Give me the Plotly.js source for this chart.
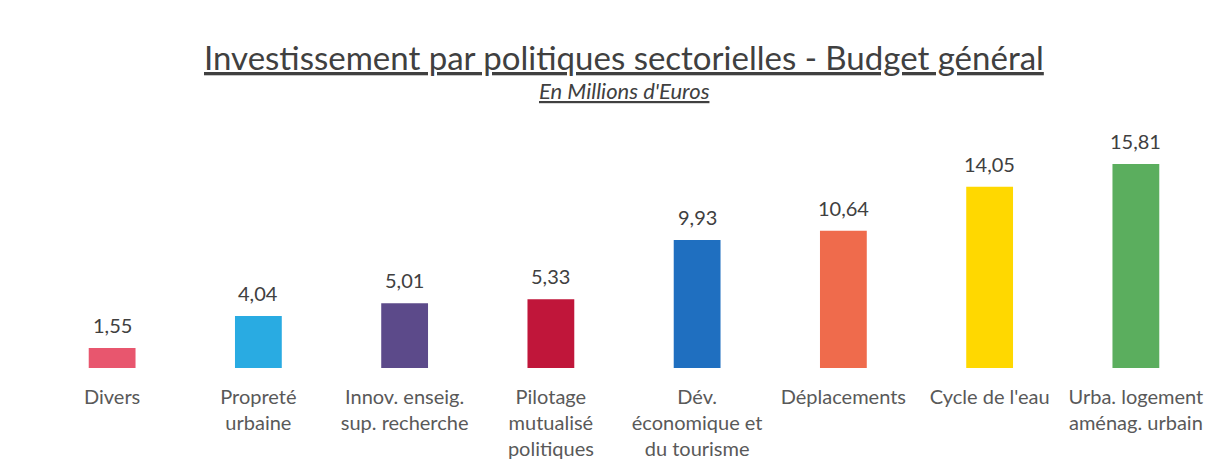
<!DOCTYPE html>
<html>
<head>
<meta charset="utf-8">
<script src="https://cdn.plot.ly/plotly-3.0.1.min.js"></script>
<style>html,body{margin:0;padding:0;background:#fff;}#chart{width:1221px;height:469px;}</style>
</head>
<body>
<div id="chart"></div>
<script>
const categories = [
  "Divers",
  "Propreté<br>urbaine",
  "Innov. enseig.<br>sup. recherche",
  "Pilotage<br>mutualisé<br>politiques",
  "Dév.<br>économique et<br>du tourisme",
  "Déplacements",
  "Cycle de l'eau",
  "Urba. logement<br>aménag. urbain"
];
const values = [1.55, 4.04, 5.01, 5.33, 9.93, 10.64, 14.05, 15.81];
const barColors = ["#E8566E", "#29ABE2", "#5C4A8A", "#C0163A", "#1F6FC0", "#EF6B4C", "#FFD800", "#5BAE5E"];
const titleText = "Investissement par politiques sectorielles - Budget général";
const subtitleText = "En Millions d'Euros";

const FONT = "Lato, 'Open Sans', sans-serif";

const valueLabels = categories.map((c, i) => ({
  x: c, y: values[i], xref: "x", yref: "y",
  text: values[i].toFixed(2).replace(".", ","),
  showarrow: false, yanchor: "bottom", yshift: 9,
  font: {family: FONT, size: 20, color: "#404040"}
}));

Plotly.newPlot("chart", [{
  type: "bar",
  x: categories,
  y: values,
  marker: {color: barColors},
  hoverinfo: "skip"
}], {
  width: 1221, height: 469,
  paper_bgcolor: "#fff", plot_bgcolor: "#fff",
  margin: {l: 39, r: 12, t: 130, b: 101},
  bargap: 0.68,
  showlegend: false,
  font: {family: FONT, color: "#595959"},
  xaxis: {
    type: "category",
    showgrid: false, zeroline: false, showline: false, ticks: "",
    tickfont: {family: FONT, size: 20, color: "#595959"},
    ticklabelstandoff: 15,
    tickangle: 0
  },
  yaxis: {
    range: [0, 18.45],
    visible: false, showgrid: false, zeroline: false
  },
  annotations: [
    {text: "<u>" + titleText + "</u>", xref: "paper", yref: "paper", x: 0.5, xanchor: "center",
     y: 1, yanchor: "middle", yshift: 73, showarrow: false,
     font: {family: FONT, size: 33, color: "#404040"}},
    {text: "<u><i>" + subtitleText + "</i></u>", xref: "paper", yref: "paper", x: 0.5, xanchor: "center",
     y: 1, yanchor: "middle", yshift: 40, showarrow: false,
     font: {family: FONT, size: 22, color: "#404040"}}
  ].concat(valueLabels)
}, {displayModeBar: false, staticPlot: true});
</script>
</body>
</html>
